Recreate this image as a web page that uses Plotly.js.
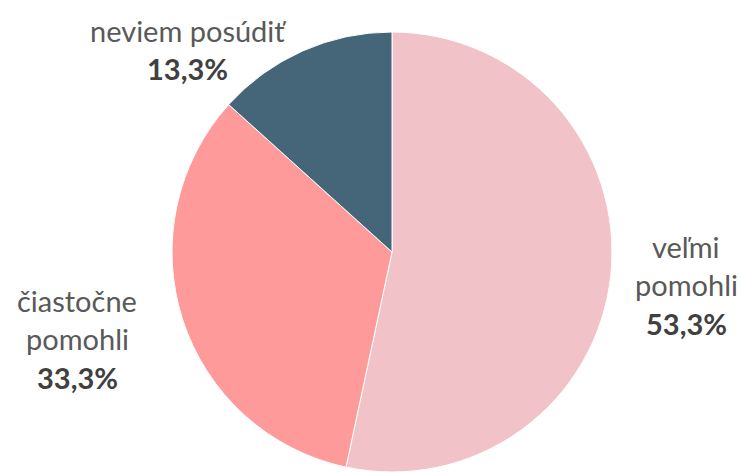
<!DOCTYPE html>
<html>
<head>
<meta charset="utf-8">
<script src="https://cdn.plot.ly/plotly-3.0.1.min.js"></script>
<style>html,body{margin:0;padding:0;background:#fff;}#chart{width:742px;height:474px;}</style>
</head>
<body>
<div id="chart"></div>
<script>
// Data
const categories = ["veľmi\npomohli", "čiastočne\npomohli", "neviem posúdiť"];
const values = [53.3, 33.3, 13.3];
const colors = ["#F1C3C9", "#FF9A9A", "#456579"];

// Label placement (pixel centre x, centre y of first line)
const labelPos = [
  {x: 686, y: 246},
  {x: 77,  y: 300},
  {x: 188, y: 30}
];
const lineStep = 38.5;
const W = 742, H = 474;

function fmtPct(v) {
  return (v).toFixed(1).replace('.', ',') + '%';
}

const fontFam = 'Lato, "Open Sans", sans-serif';
const annotations = [];
categories.forEach((cat, i) => {
  const lines = cat.split('\n');
  const p = labelPos[i];
  lines.forEach((ln, j) => {
    annotations.push({
      x: p.x / W, y: 1 - (p.y + j * lineStep) / H,
      xref: 'paper', yref: 'paper', xanchor: 'center', yanchor: 'middle',
      text: ln, showarrow: false,
      font: {family: fontFam, size: 29, color: '#595959'}
    });
  });
  annotations.push({
    x: p.x / W, y: 1 - (p.y + lines.length * lineStep) / H,
    xref: 'paper', yref: 'paper', xanchor: 'center', yanchor: 'middle',
    text: '<b>' + fmtPct(values[i]) + '</b>', showarrow: false,
    font: {family: fontFam, size: 29, color: '#404040'}
  });
});

const cx = 392, cy = 252, r = 220;
const trace = {
  type: 'pie',
  labels: categories.map(c => c.replace('\n', ' ')),
  values: values,
  sort: false,
  direction: 'clockwise',
  rotation: 0,
  textinfo: 'none',
  hoverinfo: 'label+percent',
  marker: {colors: colors, line: {color: '#ffffff', width: 1}},
  domain: {x: [(cx - r) / W, (cx + r) / W], y: [1 - (cy + r) / H, 1 - (cy - r) / H]}
};

Plotly.newPlot('chart', [trace], {
  width: W, height: H,
  margin: {l: 0, r: 0, t: 0, b: 0},
  showlegend: false,
  paper_bgcolor: '#ffffff',
  annotations: annotations
}, {displayModeBar: false, staticPlot: true});
</script>
</body>
</html>
